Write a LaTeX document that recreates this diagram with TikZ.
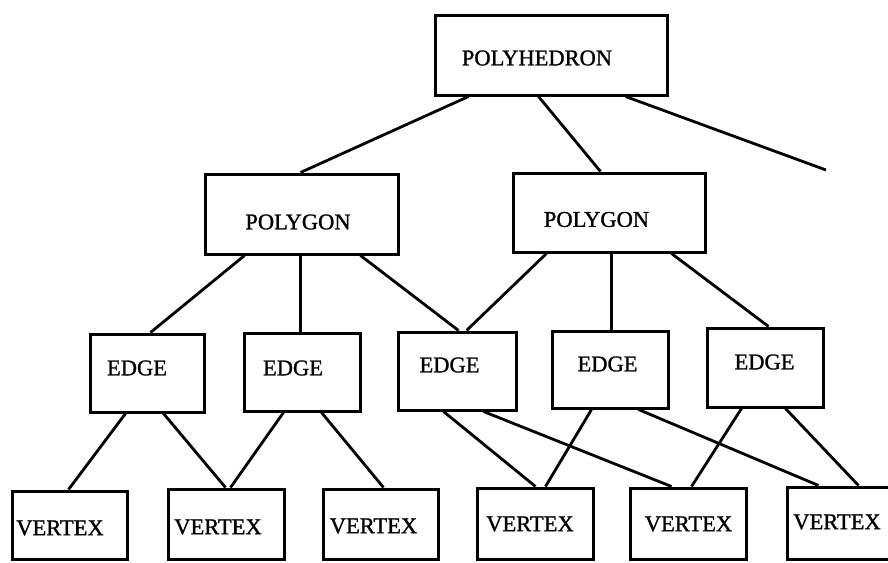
\documentclass[tikz,border=0pt]{standalone}
\usepackage{fontspec}
\setmainfont{Liberation Serif}
\newfontfamily\scanfont{Liberation Serif}[FakeBold=1.2]
\usetikzlibrary{calc}
\begin{document}
\begin{tikzpicture}[x=1pt,y=-1pt,
    box/.style={draw,line width=3pt,minimum width=#1,inner sep=0pt},
    lbl/.style={font=\scanfont\fontsize{22.5}{23}\selectfont,inner sep=0pt},
    conn/.style={line width=2.8pt}]
        \clip (0,0) rectangle (888,562);

        % Riquadri
        \node[box=232pt,minimum height=80pt] (ph) at (551,55) {};
        \node[box=193pt,minimum height=80pt] (pg1) at (301.5,214) {};
        \node[box=192pt,minimum height=79pt] (pg2) at (609,212.5) {};

        \node[box=114pt,minimum height=78pt] (e1) at (147,373) {};
        \node[box=116pt,minimum height=78pt] (e2) at (302,372) {};
        \node[box=118pt,minimum height=78pt] (e3) at (457,371) {};
        \node[box=116pt,minimum height=77pt] (e4) at (610,369.5) {};
        \node[box=116pt,minimum height=79pt] (e5) at (765,367.5) {};

        \node[box=115pt,minimum height=68pt] (v1) at (69.5,525) {};
        \node[box=116pt,minimum height=70pt] (v2) at (226,524) {};
        \node[box=115pt,minimum height=70pt] (v3) at (380.5,524) {};
        \node[box=116pt,minimum height=71pt] (v4) at (535,523.5) {};
        \node[box=116pt,minimum height=71pt] (v5) at (688,523.5) {};
        \node[box=118pt,minimum height=72pt] (v6) at (846,523) {};

        % Etichette
        \node[lbl] (t-ph) at (537,58) {POLYHEDRON};
        \node[lbl] (t-pg1) at (298,222) {POLYGON};
        \node[lbl] (t-pg2) at (596.5,219.5) {POLYGON};
        \node[lbl] (t-e1) at (137,368) {EDGE};
        \node[lbl] (t-e2) at (293,368) {EDGE};
        \node[lbl] (t-e3) at (449.5,365) {EDGE};
        \node[lbl] (t-e4) at (607.5,364) {EDGE};
        \node[lbl] (t-e5) at (764.5,362) {EDGE};
        \node[lbl] (t-v1) at (60,528) {VERTEX};
        \node[lbl] (t-v2) at (218,527) {VERTEX};
        \node[lbl] (t-v3) at (373.5,526) {VERTEX};
        \node[lbl] (t-v4) at (530,524) {VERTEX};
        \node[lbl] (t-v5) at (688.5,524) {VERTEX};
        \node[lbl] (t-v6) at (837,522) {VERTEX};

        % Collegamenti
        \coordinate (altro) at (826,170);
        \draw[conn] ([xshift=35pt]ph.south west) -- ([xshift=97pt]pg1.north west);
        \draw[conn] ([xshift=105pt]ph.south west) -- ([xshift=89pt]pg2.north west);
        \draw[conn] ([xshift=192pt]ph.south west) -- (altro);

        \draw[conn] ([xshift=41pt]pg1.south west) -- ([xshift=62pt]e1.north west);
        \draw[conn] ([xshift=97pt]pg1.south west) -- ([xshift=58pt]e2.north west);
        \draw[conn] ([xshift=157pt]pg1.south west) -- ([xshift=62pt]e3.north west);
        \draw[conn] ([xshift=35pt]pg2.south west) -- ([xshift=70pt]e3.north west);
        \draw[conn] ([xshift=100pt]pg2.south west) -- ([xshift=61pt]e4.north west);
        \draw[conn] ([xshift=160pt]pg2.south west) -- ([xshift=63pt]e5.north west);

        \draw[conn] ([xshift=37pt]e1.south west) -- ([xshift=58pt]v1.north west);
        \draw[conn] ([xshift=75pt]e1.south west) -- ([xshift=59pt]v2.north west);
        \draw[conn] ([xshift=41pt]e2.south west) -- ([xshift=64pt]v2.north west);
        \draw[conn] ([xshift=79pt]e2.south west) -- ([xshift=62pt]v3.north west);
        \draw[conn] ([xshift=47pt]e3.south west) -- ([xshift=60pt]v4.north west);
        \draw[conn] ([xshift=87pt]e3.south west) -- ([xshift=43pt]v5.north west);
        \draw[conn] ([xshift=41pt]e4.south west) -- ([xshift=70pt]v4.north west);
        \draw[conn] ([xshift=88pt]e4.south west) -- ([xshift=33pt]v6.north west);
        \draw[conn] ([xshift=36pt]e5.south west) -- ([xshift=63pt]v5.north west);
        \draw[conn] ([xshift=80pt]e5.south west) -- ([xshift=73pt]v6.north west);
    \end{tikzpicture}
\end{document}
